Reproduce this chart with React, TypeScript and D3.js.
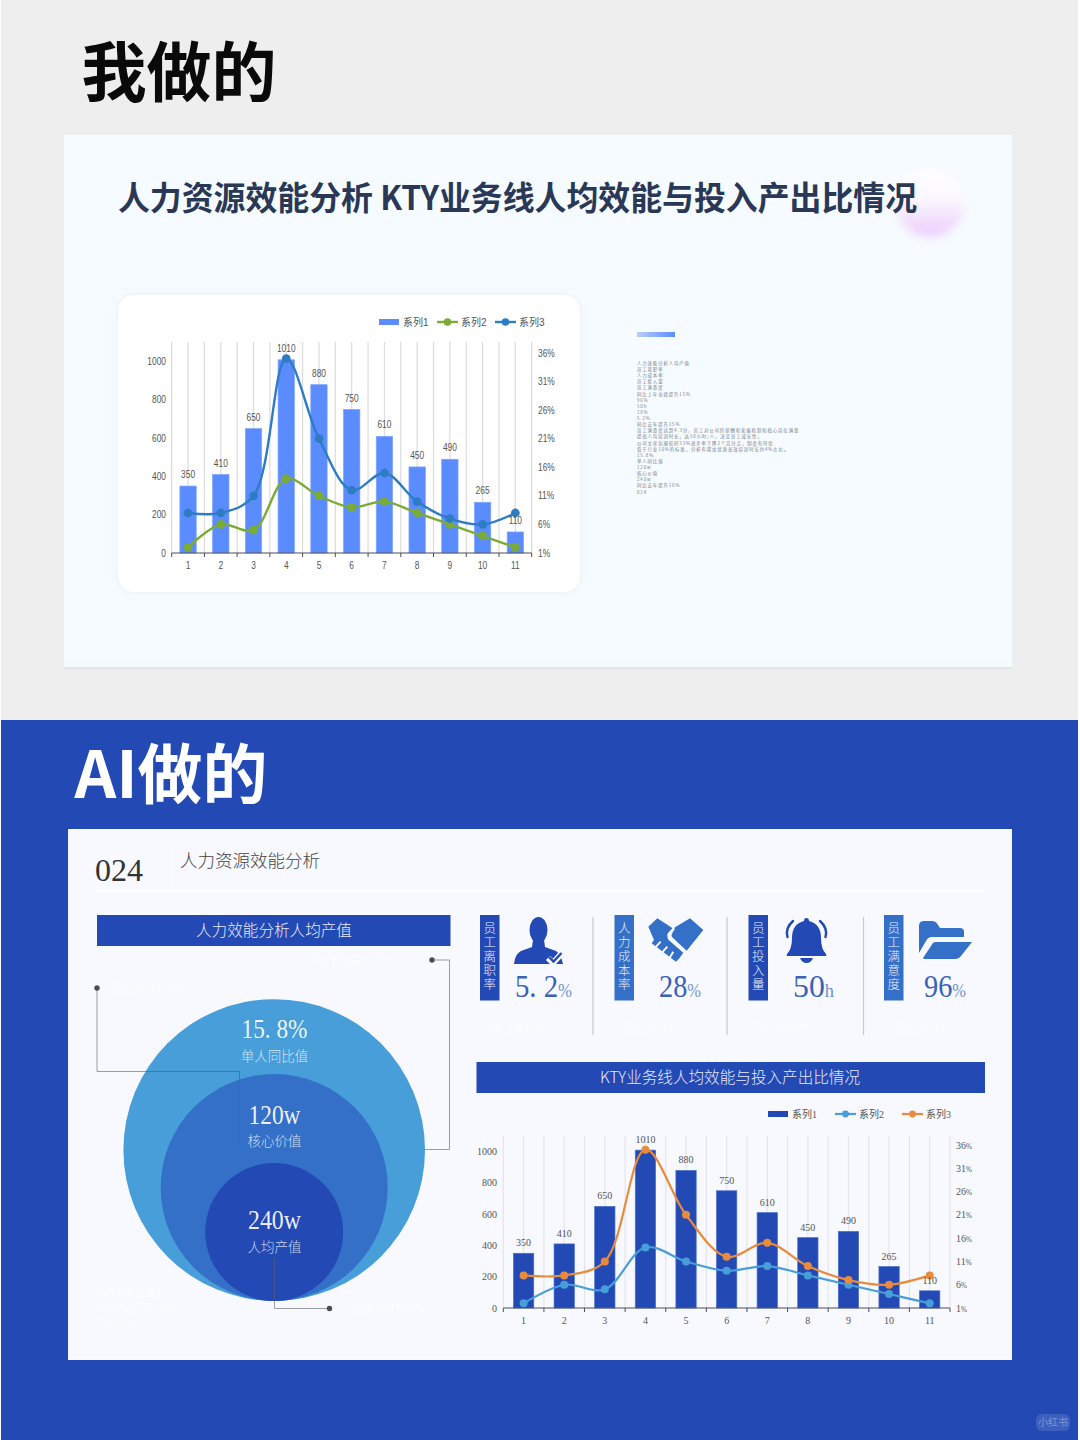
import React from "react";
import * as d3 from "d3";

const categories = ["1","2","3","4","5","6","7","8","9","10","11"];
const barValues = [350,410,650,1010,880,750,610,450,490,265,110];
const lineValuesA = [2,6,5,14,11,9,10,8,6,4,2];
const lineValuesB = [8,8,11,35,21,12,15,10,7,6,8];
const leftTicks = [0,200,400,600,800,1000];
const rightTicks = [1,6,11,16,21,26,31,36];
const seriesNames = ["系列1","系列2","系列3"];
const kpiNames = ["员工离职率","人力成本率","员工投入量","员工满意度"];
const kpiValues = ["5. 2","28","50","96"];
const kpiUnits = ["%","%","h","%"];
const circleValues = ["15. 8%","120w","240w"];
const circleNames = ["单人同比值","核心价值","人均产值"];
const noteLines = [
  "人力效能分析人均产值","员工离职率","人力成本率","员工投入量","员工满意度","同比上年业绩提升15%","96%","50h","28%","5.2%","同比去年提升15%",
  "员工满意度达到4.3分，员工对公司的薪酬和发展机制和核心岗位满意",
  "提高人均培训时长，达50小时/人，决定员工成长性。",
  "公司文化氛围较好33%进步率下降2个百分点，制度有待优",
  "低于行业10%的标准，分析有增加优质高效培训时长约4%左右。",
  "15.8%","单人同比值","120w","核心价值","240w","同比去年提升10%","024",
];
const ghostNotes = [
  { x: 310, y: 964, t: "同比去年提升10%" },
  { x: 106, y: 992, t: "同比上年提升15%" },
  { x: 96, y: 1296, t: "单人同比值提升" },
  { x: 96, y: 1312, t: "人均产值同比上年" },
  { x: 96, y: 1328, t: "同比提升" },
  { x: 345, y: 1312, t: "同比去年提升10%" },
  { x: 484, y: 1032, t: "同比上年提升" },
  { x: 618, y: 1032, t: "同比上年提升" },
  { x: 752, y: 1032, t: "同比上年提升" },
  { x: 890, y: 1032, t: "同比上年提升" },
];

const CJK = "'Noto Sans CJK SC', sans-serif";
const SERIF = "'Liberation Serif', 'Noto Sans CJK SC', serif";
const SANS = "'Liberation Sans', 'Noto Sans CJK SC', sans-serif";

function Combo(p: any) {
  const { left, right, base, y1000, top, rTop, barColor, barStroke, colA, colB, font, grid, legend, legY, lw, r, sz, labelGap, txt, rx, lx, xy, nameFont, pct, sx } = p;
  const x = d3.scaleBand<string>().domain(categories).range([left, right]).paddingInner(0.5).paddingOuter(0.25);
  const step = x.step();
  const cx = (c: string) => (x(c) as number) + x.bandwidth() / 2;
  const yL = d3.scaleLinear().domain([0, 1000]).range([base, y1000]);
  const yR = d3.scaleLinear().domain([1, 36]).range([base, rTop]);
  const line = d3.line<number>().x((_, i) => cx(categories[i])).y(v => yR(v)).curve(d3.curveCatmullRom.alpha(0.5));
  const bounds = d3.range(categories.length + 1).map(i => left + i * step);
  const at = (px: number, py: number) => `translate(${px},${py}) scale(${sx},1)`;
  return (
    <g>
      {bounds.map(b => <line key={"g" + b} x1={b} x2={b} y1={top} y2={base} stroke={grid} strokeWidth={1.2} />)}
      {categories.map(c => <line key={"m" + c} x1={cx(c)} x2={cx(c)} y1={top} y2={base} stroke={grid} strokeWidth={1.2} />)}
      {categories.map((c, i) => (
        <rect key={"b" + c} x={x(c)} width={x.bandwidth()} y={yL(barValues[i])} height={base - yL(barValues[i])} fill={barColor} stroke={barStroke} strokeWidth={0.7} />
      ))}
      <line x1={left} x2={right} y1={base} y2={base} stroke="#4a4f5c" strokeWidth={1.2} />
      {bounds.map(b => <line key={"t" + b} x1={b} x2={b} y1={base} y2={base + 4} stroke="#4a4f5c" strokeWidth={1} />)}
      <path d={line(lineValuesA) as string} fill="none" stroke={colA} strokeWidth={lw} />
      <path d={line(lineValuesB) as string} fill="none" stroke={colB} strokeWidth={lw} />
      {lineValuesA.map((v, i) => <circle key={"a" + i} cx={cx(categories[i])} cy={yR(v)} r={r} fill={colA} />)}
      {lineValuesB.map((v, i) => <circle key={"c" + i} cx={cx(categories[i])} cy={yR(v)} r={r} fill={colB} />)}
      <g fontFamily={font} fontSize={sz} fill={txt}>
        {categories.map((c, i) => <text key={"l" + c} transform={at(cx(c), yL(barValues[i]) - labelGap)} textAnchor="middle">{barValues[i]}</text>)}
        {categories.map(c => <text key={"x" + c} transform={at(cx(c), xy)} textAnchor="middle">{c}</text>)}
        {leftTicks.map(t => <text key={"yl" + t} transform={at(lx, yL(t) + 3.5)} textAnchor="end">{t}</text>)}
        {rightTicks.map(t => <text key={"yr" + t} transform={at(rx, yR(t) + 3.5)}>{t}<tspan fontSize={sz * pct}>%</tspan></text>)}
      </g>
      <g fontFamily={nameFont} fontSize={sz} fill={txt}>
        <rect x={legend[0]} y={legY - 3} width={20} height={6} fill={barColor} />
        <text x={legend[0] + 24} y={legY + 4}>{seriesNames[0]}</text>
        <line x1={legend[1]} x2={legend[1] + 21} y1={legY} y2={legY} stroke={colA} strokeWidth={lw} />
        <circle cx={legend[1] + 10.5} cy={legY} r={r * 0.85} fill={colA} />
        <text x={legend[1] + 24} y={legY + 4}>{seriesNames[1]}</text>
        <line x1={legend[2]} x2={legend[2] + 21} y1={legY} y2={legY} stroke={colB} strokeWidth={lw} />
        <circle cx={legend[2] + 10.5} cy={legY} r={r * 0.85} fill={colB} />
        <text x={legend[2] + 24} y={legY + 4}>{seriesNames[2]}</text>
      </g>
    </g>
  );
}

function Icons() {
  const dark = "#2349b5", mid = "#3570c8", bg = "#f7f9fe";
  return (
    <g>
      {/* person */}
      <ellipse cx={538.5} cy={930} rx={9} ry={13} fill={dark} />
      <path d="M533 940 L544 940 L545 947 L556 951 Q561 954 563 964 L514 964 Q515 954 521 951 L532 947Z" fill={dark} />
      <path d="M548 958 l5 5 l9 -10" fill="none" stroke={bg} strokeWidth={6} />
      <path d="M549 957 l4.5 4.5 l8 -8.5" fill="none" stroke={dark} strokeWidth={2.4} />
      {/* handshake */}
      <g transform="translate(640,910) scale(0.3333)">
        <path d="M25 50 L52 25 L98 55 L82 72 Q80 88 92 95 L130 128 L118 145 L108 155 L35 100 L42 90 Z" fill={mid} />
        <path d="M105 52 L150 25 L190 60 L140 122 L100 85 Q92 78 96 72 Z" fill={mid} />
        <path d="M102 56 L88 70 Q84 82 96 90 L136 126" fill="none" stroke={bg} strokeWidth={7} />
        <path d="M62 95 L46 112 M82 110 L66 128 M100 125 L88 145" fill="none" stroke={bg} strokeWidth={6} />
      </g>
      {/* bell */}
      <path d="M806.5 918 Q809 918 809 921 Q821 924 821 938 Q821 949 826 954 Q827 956 825 956 L788 956 Q786 956 787 954 Q792 949 792 938 Q792 924 804 921 Q804 918 806.5 918Z" fill={dark} />
      <path d="M800 958 L813 958 Q811 963 806.5 963 Q802 963 800 958Z" fill={dark} />
      <path d="M793 921 Q785 928 787.5 937 M820 921 Q828 928 825.5 937" fill="none" stroke={dark} strokeWidth={2.4} strokeLinecap="round" />
      {/* folder */}
      <path d="M919 926 Q919 921 924 921 L932 921 Q936 921 938 925 L940 928 L960 928 Q964 928 964 932 L964 937 L932 937 Q928 937 926 941 L919 953Z" fill={mid} />
      <path d="M923 958 L933 943 Q934 942 936 942 L972 942 L961 956 Q959 959 956 959 L924 959Z" fill={mid} />
    </g>
  );
}

export default function App() {
  const kpiX = [480, 614.5, 748.5, 884];
  const kpiColor = ["#2349b5", "#3570c8", "#2349b5", "#3570c8"];
  const valX = [515, 659, 793, 924];
  const valW = [57, 42, 41, 42];
  const circW = [66, 52, 53];
  return (
    <svg width={1080} height={1440} viewBox="0 0 1080 1440" style={{ position: "absolute", left: 0, top: 0, display: "block" }}>
      <defs>
        <linearGradient id="bar" x1="0" x2="1"><stop offset="0" stopColor="#b9cdfa" /><stop offset="1" stopColor="#5b8cff" /></linearGradient>
        <linearGradient id="glow" x1="0" x2="0" y1="0" y2="1">
          <stop offset="0" stopColor="#ffffff" />
          <stop offset="0.45" stopColor="#fbf8fe" />
          <stop offset="1" stopColor="#eccbfb" />
        </linearGradient>
        <filter id="blur" x="-30%" y="-30%" width="160%" height="160%"><feGaussianBlur stdDeviation="4" /></filter>
        <filter id="card" x="-5%" y="-5%" width="110%" height="110%"><feDropShadow dx="0" dy="0" stdDeviation="3" floodColor="#b9cbe4" floodOpacity="0.25" /></filter>
      </defs>
      <rect width={1080} height={1440} fill="#ffffff" />
      <rect x={1} y={0} width={1077} height={720} fill="#eeeeee" />
      <rect x={1} y={720} width={1077} height={720} fill="#2349b5" />

      <text x={81.5} y={96} fontFamily={CJK} fontWeight={700} fontSize={65} fill="#0a0a0a">我做的</text>
      <rect x={64} y={135} width={948} height={533} fill="#f5fbfe" />
      <line x1={64} x2={1012} y1={668} y2={668} stroke="#d2d4d6" strokeWidth={1} />
      <circle cx={930} cy={202} r={35} fill="url(#glow)" filter="url(#blur)" />
      <text x={118} y={210} fontFamily={CJK} fontWeight={700} fontSize={33} fill="#2a3856" textLength={799} lengthAdjust="spacingAndGlyphs">人力资源效能分析 KTY业务线人均效能与投入产出比情况</text>
      <rect x={118} y={295} width={462} height={297} rx={16} fill="#ffffff" filter="url(#card)" />
      <Combo left={171.7} right={531.7} base={553} y1000={361.7} top={342} rTop={353} barColor="#5b8cff" barStroke="#7ea4ff"
        colA="#7aab35" colB="#2e7cc4" font={SANS} nameFont={SANS} grid="#dcdcdc" legend={[379, 437, 495]} legY={322} lw={2.4} r={4.4} sz={10} labelGap={8}
        txt="#555555" rx={538} lx={166} xy={569} pct={1} sx={0.84} />
      <rect x={637} y={332} width={38} height={5} fill="url(#bar)" />
      <g fontFamily={CJK} fontSize={4.4} fill="#77808c" letterSpacing={0.9}>
        {noteLines.map((t, i) => <text key={i} x={637} y={365 + i * 6.12}>{t}</text>)}
      </g>

      <text x={74.5} y={798} fontFamily={CJK} fontWeight={700} fontSize={65} fill="#ffffff">AI做的</text>
      <rect x={68} y={829} width={944} height={531} fill="#f7f9fe" />
      <text x={95} y={881} fontFamily={SERIF} fontSize={32} fill="#333333">024</text>
      <text x={180} y={867} fontFamily={CJK} fontSize={17.5} fontWeight={300} fill="#444444">人力资源效能分析</text>
      <line x1={172} x2={172} y1={850} y2={886} stroke="#ffffff" strokeWidth={1} />
      <line x1={95} x2={985} y1={891} y2={891} stroke="#ffffff" strokeWidth={1.5} />
      <g fontFamily={CJK} fontSize={10} fill="#ffffff" fillOpacity={0.7}>
        {ghostNotes.map((g, i) => <text key={i} x={g.x} y={g.y}>{g.t}</text>)}
      </g>

      <rect x={97} y={915} width={353.5} height={31} fill="#2349b5" />
      <text x={274} y={935.5} textAnchor="middle" fontFamily={CJK} fontSize={15.6} fontWeight={300} fill="#e6ebf8">人力效能分析人均产值</text>
      <rect x={476.5} y={1062} width={508.5} height={31} fill="#2349b5" />
      <text x={730} y={1083} textAnchor="middle" fontFamily={CJK} fontSize={15.6} fontWeight={300} fill="#e6ebf8">KTY业务线人均效能与投入产出比情况</text>

      {/* nested circles */}
      <circle cx={274.2} cy={1150} r={150.8} fill="#479ed8" />
      <circle cx={274.2} cy={1187.5} r={113.5} fill="#3570c8" />
      <circle cx={274.2} cy={1232} r={69} fill="#2349b5" />
      {[[1038, 1061], [1124, 1146], [1229, 1252]].map(([a, b], i) => (
        <g key={i} fill="#ffffff">
          <text x={274.5 - circW[i] / 2} y={a} fontFamily={SERIF} fontSize={28} fillOpacity={0.92} textLength={circW[i]} lengthAdjust="spacingAndGlyphs">{circleValues[i]}</text>
          <text x={274.5} y={b} textAnchor="middle" fontFamily={CJK} fontSize={13.5} fontWeight={300} fillOpacity={0.75}>{circleNames[i]}</text>
        </g>
      ))}
      <g fill="none" stroke="#5a6068" strokeOpacity={0.6} strokeWidth={1}>
        <path d="M432 960 H449.5 V1149.5 H425" />
        <path d="M97 988 V1071.5 H239.5 V1143" />
        <path d="M274.5 1257 V1308.5 H329" />
      </g>
      <circle cx={432} cy={960} r={2.7} fill="#4a4d55" />
      <circle cx={97} cy={988} r={2.7} fill="#4a4d55" />
      <circle cx={329.5} cy={1308.5} r={2.7} fill="#4a4d55" />

      {/* KPI row */}
      {kpiNames.map((n, i) => (
        <g key={n}>
          <rect x={kpiX[i]} y={915} width={19.5} height={85.5} fill={kpiColor[i]} />
          <text x={kpiX[i] + 9.75} y={922} textAnchor="start" fontFamily={CJK} fontSize={12.5} fontWeight={300} fill="#e6ebf8"
            letterSpacing={1.6} style={{ writingMode: "vertical-rl" } as any}>{n}</text>
          <text x={valX[i]} y={997} fontFamily={SERIF} fontSize={31} fill="#3a62b8" textLength={valW[i]} lengthAdjust="spacingAndGlyphs">
            {kpiValues[i]}<tspan fontSize={18} fill="#6f93d2">{kpiUnits[i]}</tspan>
          </text>
        </g>
      ))}
      {[593, 727, 863.5].map(v => <line key={v} x1={v} x2={v} y1={917} y2={1035} stroke="#c9ccd3" strokeWidth={1.3} />)}
      <Icons />

      <Combo left={503.3} right={950} base={1308} y1000={1151.7} top={1136} rTop={1145} barColor="#2349b5" barStroke="#4a6fd0"
        colA="#479ed8" colB="#e98b3c" font={SERIF} nameFont={SERIF} grid="#e3e5ea" legend={[768, 835, 902]} legY={1114} lw={2.2} r={4} sz={10} labelGap={7}
        txt="#555555" rx={956} lx={497} xy={1324} pct={0.72} sx={1} />

      <g>
        <rect x={1036} y={1414} width={34} height={17} rx={6} fill="#ffffff" fillOpacity={0.12} />
        <text x={1053} y={1426} textAnchor="middle" fontFamily={CJK} fontSize={10} fill="#ffffff" fillOpacity={0.35}>小红书</text>
      </g>
    </svg>
  );
}
